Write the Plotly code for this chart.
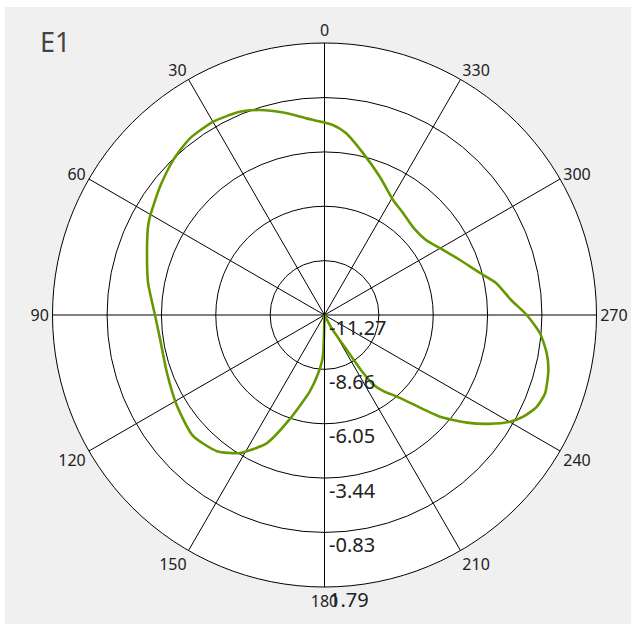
import plotly.graph_objects as go

# Angles (degrees, counterclockwise from top) and levels
theta_deg = [1.3, 5.2, 11.5, 17.5, 22.6, 29.9, 37.3, 44.3, 52.0, 60.6, 63.5, 70.7,
             79.7, 90.0, 98.3, 110.2, 121.7, 132.6, 141.7, 148.5, 155.8, 161.6,
             169.2, 173.9, 177.6, 180.0, 195.0, 200.0, 208.0, 212.5, 213.5, 215.0,
             218.0, 221.4, 226.3, 228.6, 230.8, 232.9, 236.5, 240.1, 242.9, 246.6,
             250.4, 256.2, 260.2, 265.1, 270.0, 274.6, 280.6, 285.1, 292.1, 300.1,
             306.5, 314.8, 322.4, 329.2, 338.1, 346.6, 353.3, 357.5, 361.3]
level_db = [-1.98, -1.79, -1.35, -0.95, -0.70, -0.56, -0.61, -0.87, -1.25, -1.65, -1.80, -2.24,
            -2.66, -3.13, -3.29, -3.21, -2.95, -2.69, -2.94, -3.50, -4.53, -6.01,
            -7.55, -8.47, -9.22, -11.27, -11.27, -11.27, -10.60, -9.30, -8.10, -7.20,
            -6.60, -6.08, -4.73, -3.88, -3.29, -2.70, -1.80, -0.99, -0.55, -0.17,
            -0.03, -0.20, -0.44, -0.88, -1.56, -2.28, -2.89, -3.53, -4.25, -4.86,
            -5.21, -5.28, -5.09, -4.84, -4.13, -3.28, -2.47, -2.14, -1.98]

radial_ticks = [-11.27, -8.66, -6.05, -3.44, -0.83, 1.79]
radial_labels = ["-11.27", "-8.66", "-6.05", "-3.44", "-0.83", "1.79"]
angular_ticks = [0, 30, 60, 90, 120, 150, 180, 210, 240, 270, 300, 330]
angular_labels = [str(a) for a in angular_ticks]

W, H = 633, 626
cx, cy, R = 324.5, 315.0, 272.0
FONT = "Noto Sans"

fig = go.Figure()
fig.add_trace(go.Scatterpolar(
    r=level_db, theta=theta_deg, mode="lines",
    line=dict(color="#669900", width=2.6, shape="spline", smoothing=0.6),
    hoverinfo="skip", showlegend=False,
))

fig.update_layout(
    width=W, height=H,
    margin=dict(l=0, r=0, t=0, b=0),
    paper_bgcolor="white",
    font=dict(family=FONT, color="#222222"),
    title=dict(text="E1", x=40 / W, xanchor="left", xref="paper",
               y=1 - 42.5 / H, yanchor="middle", yref="paper",
               font=dict(family=FONT, size=27, color="#444444")),
    shapes=[dict(type="rect", xref="paper", yref="paper",
                 x0=5 / W, x1=631 / W, y0=1 - 624 / H, y1=1 - 7 / H,
                 fillcolor="#f0f0f0", line=dict(width=0), layer="below")],
    polar=dict(
        domain=dict(x=[(cx - R) / W, (cx + R) / W],
                    y=[1 - (cy + R) / H, 1 - (cy - R) / H]),
        bgcolor="white",
        angularaxis=dict(
            rotation=90, direction="counterclockwise",
            tickmode="array", tickvals=angular_ticks, ticktext=angular_labels,
            showline=True, linecolor="black", linewidth=1,
            showgrid=True, gridcolor="black", gridwidth=1,
            ticks="", tickfont=dict(family=FONT, size=16, color="#222222"),
        ),
        radialaxis=dict(
            range=[-11.27, 1.79], angle=270, side="counterclockwise",
            tickmode="array", tickvals=radial_ticks,
            ticktext=["<br>" + t for t in radial_labels],
            showline=True, linecolor="black", linewidth=1,
            showgrid=True, gridcolor="black", gridwidth=1,
            ticks="", tickangle=-90,
            tickfont=dict(family=FONT, size=20, color="#222222"),
        ),
    ),
)

fig.write_html("out.html", config={"displayModeBar": False},
               post_script="document.body.style.margin='0';document.body.style.padding='0';")
